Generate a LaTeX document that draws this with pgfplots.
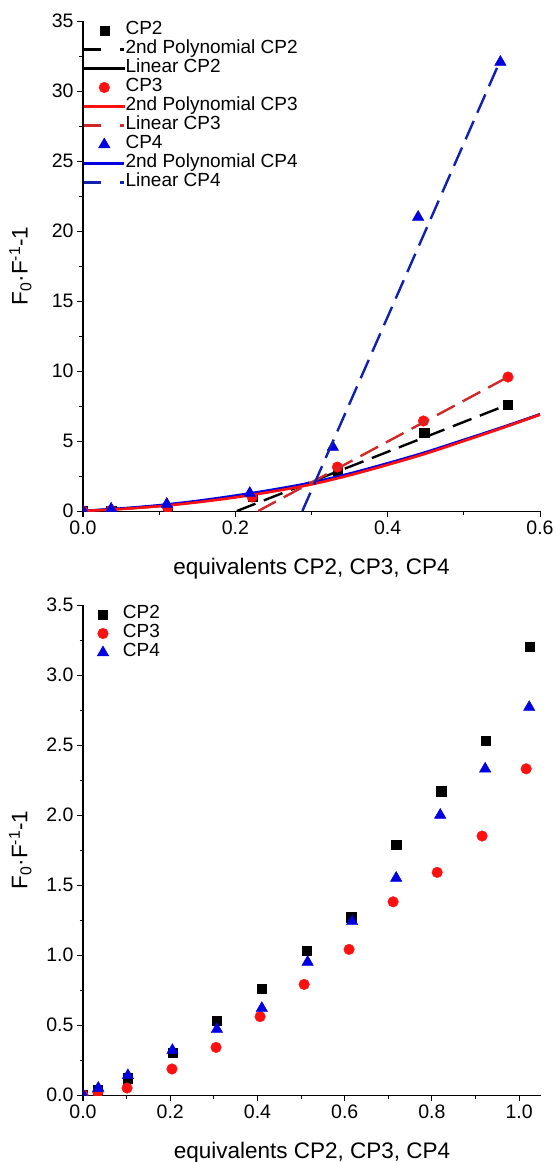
\documentclass[border=0pt]{standalone}
\usepackage{fontspec}
\setmainfont{Liberation Sans}
\usepackage{pgfplots}
\pgfplotsset{compat=1.18}

\definecolor{cpred}{HTML}{FF1010}
\definecolor{fitred}{HTML}{D02828}
\definecolor{cpblue}{HTML}{0000E0}
\definecolor{fitblue}{HTML}{1020B0}

\pgfplotsset{
  panel/.style={
    scale only axis,
    axis x line=bottom, axis y line=left,
    axis line style={line width=1pt,-},
    tick align=outside,
    major tick length=6pt, minor tick length=3.5pt,
    every tick/.style={line width=1pt,black},
    minor x tick num=1, minor y tick num=1,
    tick label style={font=\fontsize{19.5}{22}\selectfont},
    /pgf/number format/assume math mode=true,
    label style={font=\fontsize{22.5}{26}\selectfont},
    xlabel style={at={(axis description cs:0.5,-0.118)}, anchor=center},
    ylabel style={at={(axis description cs:-0.137,0.5)}, anchor=center},
    xlabel={equivalents CP2, CP3, CP4},
    ylabel={F\textsubscript{0}·F\textsuperscript{-1}-1},
    clip marker paths=true,
    legend cell align=left,
    legend style={at={(axis description cs:0,1)}, anchor=north west,
      draw=none, fill=none, inner sep=0pt, outer sep=0pt,
      font=\fontsize{19}{21}\selectfont, row sep=0pt,
      /tikz/every even column/.style={column sep=3pt},
      nodes={inner sep=0pt, text height=13pt, text depth=6pt}},
    legend image code/.code={
      \draw[mark repeat=2,mark phase=2,#1] plot coordinates {(0pt,0pt) (20pt,0pt) (40pt,0pt)};},
  },
  markleg/.style={legend image code/.code={
      \path[draw=none,fill=none] (0pt,0pt) (40pt,0pt);
      \draw[##1] plot coordinates {(20pt,0pt)};}},
  sq/.style={only marks, mark=square*, mark size=4.6pt, black, mark options={draw=black, fill=black}, markleg},
  ci/.style={only marks, mark=*, mark size=5.3pt, mark options={draw=cpred, fill=cpred}, markleg},
  tr/.style={only marks, mark=triangle*, mark size=6.6pt, mark options={draw=cpblue, fill=cpblue}, markleg},
  fitdash/.style={line width=2.4pt, dash pattern=on 20pt off 9pt,
    legend image code/.code={\draw[##1, dash pattern=on 17pt off 19pt on 4pt] (0pt,0pt) -- (40pt,0pt);}},
  fitsolid/.style={line width=2.6pt, smooth},
}

\begin{document}
\begin{tikzpicture}
\path[use as bounding box] (0pt,0pt) rectangle (555pt,-1162pt);

% upper panel: fits
\begin{axis}[panel,
  at={(83pt,-511pt)}, anchor=south west,
  width=457pt, height=490pt,
  xmin=0, xmax=0.6, ymin=0, ymax=35,
  xtick={0,0.2,0.4,0.6}, ytick={0,5,10,15,20,25,30,35},
  xticklabel style={/pgf/number format/.cd, fixed, fixed zerofill, precision=1},
]
\addplot[sq] coordinates {(0,0) (0.037,0.05) (0.111,0.2) (0.223,1.0) (0.334,2.86) (0.448,5.57) (0.558,7.6)};
\addlegendentry{CP2}
\addplot[black, fitdash] coordinates {(0.202,0) (0.558,7.6)};
\addlegendentry{2nd Polynomial CP2}
\addplot[black, fitsolid] coordinates {(0,0) (0.05,0.16) (0.1,0.37) (0.15,0.66) (0.2,1.02) (0.25,1.45) (0.3,1.95) (0.35,2.6) (0.4,3.35) (0.45,4.15) (0.5,5.05) (0.55,5.95) (0.6,6.9)};
\addlegendentry{Linear CP2}
\addplot[ci] coordinates {(0,0) (0.037,0.05) (0.111,0.25) (0.222,1.0) (0.334,3.14) (0.447,6.43) (0.558,9.57)};
\addlegendentry{CP3}
\addplot[cpblue, fitsolid, forget plot] coordinates {(0,0) (0.05,0.18) (0.1,0.41) (0.15,0.72) (0.2,1.1) (0.25,1.53) (0.3,2.03) (0.35,2.67) (0.4,3.41) (0.45,4.2) (0.5,5.08) (0.55,5.97) (0.6,6.9)};
\addplot[cpred, fitsolid] coordinates {(0,0) (0.05,0.14) (0.1,0.34) (0.15,0.62) (0.2,0.97) (0.25,1.4) (0.3,1.9) (0.35,2.55) (0.4,3.3) (0.45,4.1) (0.5,5.0) (0.55,5.92) (0.6,6.88)};
\addlegendentry{2nd Polynomial CP3}
\addplot[fitred, fitdash] coordinates {(0.23,0) (0.558,9.57)};
\addlegendentry{Linear CP3}
\addplot[tr] coordinates {(0,0) (0.037,0.15) (0.11,0.5) (0.219,1.28) (0.328,4.57) (0.44,21.0) (0.548,32.07)};
\addlegendentry{CP4}
\addlegendimage{cpblue, line width=2.6pt}
\addlegendentry{2nd Polynomial CP4}
\addplot[fitblue, fitdash] coordinates {(0.288,0) (0.548,32.2)};
\addlegendentry{Linear CP4}
\end{axis}

% lower panel: titration points
\begin{axis}[panel,
  at={(83pt,-1095pt)}, anchor=south west,
  width=458pt, height=490pt,
  xmin=0, xmax=1.05, ymin=0, ymax=3.5,
  xtick={0,0.2,0.4,0.6,0.8,1.0}, ytick={0,0.5,1.0,1.5,2.0,2.5,3.0,3.5},
  xticklabel style={/pgf/number format/.cd, fixed, fixed zerofill, precision=1},
  yticklabel style={/pgf/number format/.cd, fixed, fixed zerofill, precision=1},
]
\addplot[sq] coordinates {(0,0) (0.034,0.04) (0.103,0.12) (0.206,0.30) (0.307,0.528) (0.41,0.757) (0.513,1.03) (0.615,1.27) (0.718,1.79) (0.821,2.17) (0.924,2.53) (1.025,3.2)};
\addlegendentry{CP2}
\addplot[ci] coordinates {(0,0) (0.034,0.02) (0.101,0.05) (0.204,0.186) (0.305,0.34) (0.406,0.56) (0.507,0.79) (0.61,1.04) (0.711,1.38) (0.812,1.59) (0.915,1.85) (1.016,2.33)};
\addlegendentry{CP3}
\addplot[tr] coordinates {(0,0) (0.035,0.05) (0.103,0.14) (0.205,0.32) (0.307,0.47) (0.41,0.62) (0.515,0.95) (0.617,1.24) (0.718,1.55) (0.819,2.0) (0.922,2.33) (1.023,2.77)};
\addlegendentry{CP4}
\end{axis}
\end{tikzpicture}
\end{document}
